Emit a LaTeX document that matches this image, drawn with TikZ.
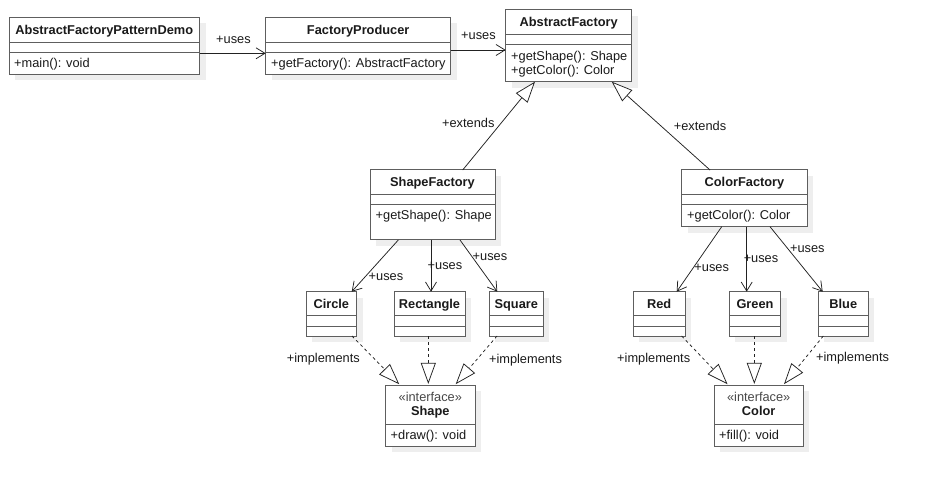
\documentclass[tikz,border=0pt]{standalone}
\usepackage{fontspec}
\setmainfont{Liberation Sans}
\usetikzlibrary{arrows.meta,calc}
\definecolor{boxc}{HTML}{5E5E5E}
\definecolor{linec}{HTML}{222222}
\definecolor{txtc}{HTML}{1A1A1A}
\definecolor{shadowc}{HTML}{EEEEEE}
\newcommand\fsz{\fontsize{12.8}{15}\selectfont}
\tikzset{
  clsbox/.style={draw=boxc, line width=1pt, fill=white, inner sep=0pt, outer sep=0pt, anchor=north west},
  sepline/.style={draw=boxc, line width=1pt},
  ttl/.style={font=\fsz\bfseries, text=txtc, inner sep=0pt, text height=9pt, text depth=0pt},
  attr/.style={font=\fsz, text=txtc, inner sep=0pt, anchor=west, text height=9pt, text depth=0pt},
  stereo/.style={font=\fsz, text=txtc!80, inner sep=0pt, text height=9pt, text depth=0pt},
  lbl/.style={font=\fsz, text=txtc, inner sep=0pt, text height=9pt, text depth=0pt},
  uses/.style={draw=linec, line width=0.75pt, -{Straight Barb[length=9pt,width=11pt,line width=0.75pt]}},
  extends/.style={draw=linec, line width=0.75pt, -{Triangle[open,length=21pt,width=15pt,fill=white,line width=0.75pt]}},
  realizes/.style={draw=linec, line width=0.75pt, dash pattern=on 3pt off 3pt, -{Triangle[open,length=21pt,width=15pt,fill=white,line width=0.75pt,sep]}},
}
\newcommand\ucls[5]{%
  \fill[shadowc] (#2+6,#3+6) rectangle (#4+6,#5+6);
  \node[clsbox, minimum width={#4-#2}, minimum height={#5-#3}] (#1) at (#2,#3) {};
}
\newcommand\usep[2]{\draw[sepline] (#1.west |- 0,#2) -- (#1.east |- 0,#2);}
\begin{document}
\begin{tikzpicture}[x=1pt,y=-1pt,font=\fsz]
\useasboundingbox[fill=white] (0,0) rectangle (929,486);

% ---------- classes ----------
\ucls{demo}{9}{17.5}{199.5}{74.5}
\usep{demo}{42.7}\usep{demo}{52.5}
\node[ttl] (demo-t) at (104.2,30.5) {AbstractFactoryPatternDemo};
\node[attr] (demo-a) at (14,63.5) {+main(): void};

\ucls{fp}{265.7}{17.5}{450.7}{74.5}
\usep{fp}{42.7}\usep{fp}{52.5}
\node[ttl] (fp-t) at (358.2,30.5) {FactoryProducer};
\node[attr] (fp-a) at (271,63.5) {+getFactory(): AbstractFactory};

\ucls{af}{505.7}{10}{631.7}{81.7}
\usep{af}{34.3}\usep{af}{44.3}
\node[ttl] (af-t) at (568.7,22.5) {AbstractFactory};
\node[attr] (af-a1) at (511,56) {+getShape(): Shape};
\node[attr] (af-a2) at (511,70.5) {+getColor(): Color};

\ucls{sf}{370}{170}{495}{240}
\usep{sf}{194.3}\usep{sf}{204.3}
\node[ttl] (sf-t) at (432.5,182.5) {ShapeFactory};
\node[attr] (sf-a) at (375.5,215.5) {+getShape(): Shape};

\ucls{cf}{681.7}{170}{807.3}{226.7}
\usep{cf}{194.3}\usep{cf}{204.3}
\node[ttl] (cf-t) at (744.5,182.5) {ColorFactory};
\node[attr] (cf-a) at (687,215.5) {+getColor(): Color};

\ucls{circle}{306}{291.7}{356.7}{336}
\usep{circle}{316}\usep{circle}{326.3}
\node[ttl] (circle-t) at (331.3,304) {Circle};

\ucls{rect}{394}{291.7}{465}{336}
\usep{rect}{316}\usep{rect}{326.3}
\node[ttl] (rect-t) at (429.5,304) {Rectangle};

\ucls{square}{489.3}{291.7}{543.3}{336}
\usep{square}{316}\usep{square}{326.3}
\node[ttl] (square-t) at (516.3,304) {Square};

\ucls{red}{633.3}{291.7}{685}{336}
\usep{red}{316}\usep{red}{326.3}
\node[ttl] (red-t) at (659.2,304) {Red};

\ucls{green}{729.3}{291.7}{780.7}{336}
\usep{green}{316}\usep{green}{326.3}
\node[ttl] (green-t) at (755,304) {Green};

\ucls{blue}{818.3}{291.7}{868.3}{336}
\usep{blue}{316}\usep{blue}{326.3}
\node[ttl] (blue-t) at (843.3,304) {Blue};

\ucls{shape}{385.7}{385}{475}{446}
\usep{shape}{424}
\node[stereo] (shape-s) at (430.3,396.5) {«interface»};
\node[ttl] (shape-t) at (430.3,411) {Shape};
\node[attr] (shape-a) at (390.5,435) {+draw(): void};

\ucls{color}{714}{385}{803.3}{446}
\usep{color}{424}
\node[stereo] (color-s) at (758.7,396.5) {«interface»};
\node[ttl] (color-t) at (758.7,411) {Color};
\node[attr] (color-a) at (719,435) {+fill(): void};

% ---------- connectors ----------
\draw[uses] (demo.east |- 0,53.3) -- (fp.west |- 0,53.3);
\node[lbl] (l1) at (233.5,39) {+uses};
\draw[uses] (fp.east |- 0,50) -- (af.west |- 0,50);
\node[lbl] (l2) at (478.5,35) {+uses};

\draw[extends] ($(sf.north west)+(92.7,0)$) -- ($(af.south west)+(29.3,0)$);
\node[lbl] (l3) at (468.3,122.7) {+extends};
\draw[extends] ($(cf.north west)+(28.3,0)$) -- ($(af.south west)+(106,0)$);
\node[lbl] (l4) at (700,126) {+extends};

\draw[uses] ($(sf.south west)+(28.3,0)$) -- ($(circle.north west)+(45.7,0)$);
\node[lbl] (l5) at (386,275.7) {+uses};
\draw[uses] ($(sf.south west)+(61,0)$) -- ($(rect.north west)+(37,0)$);
\node[lbl] (l6) at (445,265) {+uses};
\draw[uses] ($(sf.south west)+(90,0)$) -- ($(square.north west)+(8,0)$);
\node[lbl] (l7) at (490,255.7) {+uses};

\draw[uses] ($(cf.south west)+(40,0)$) -- ($(red.north west)+(43.4,0)$);
\node[lbl] (l8) at (711.7,266.7) {+uses};
\draw[uses] ($(cf.south west)+(65,0)$) -- ($(green.north west)+(17.4,0)$);
\node[lbl] (l9) at (761,257.7) {+uses};
\draw[uses] ($(cf.south west)+(88.3,0)$) -- ($(blue.north west)+(4.4,0)$);
\node[lbl] (l10) at (807.3,248.3) {+uses};

\draw[realizes] ($(circle.south west)+(46,0)$) -- ($(shape.north west)+(14.3,0)$);
\draw[realizes] ($(rect.south west)+(34.3,0)$) -- ($(shape.north west)+(42.6,0)$);
\draw[realizes] ($(square.south west)+(7.7,0)$) -- ($(shape.north west)+(69.3,0)$);
\node[lbl] (l11) at (323.3,358.3) {+implements};
\node[lbl] (l12) at (525.5,359.3) {+implements};

\draw[realizes] ($(red.south west)+(48.4,0)$) -- ($(color.north west)+(14.3,0)$);
\draw[realizes] ($(green.south west)+(25,0)$) -- ($(color.north west)+(40.3,0)$);
\draw[realizes] ($(blue.south west)+(5,0)$) -- ($(color.north west)+(69.3,0)$);
\node[lbl] (l13) at (653.7,358.3) {+implements};
\node[lbl] (l14) at (852.5,356.7) {+implements};
\end{tikzpicture}
\end{document}
